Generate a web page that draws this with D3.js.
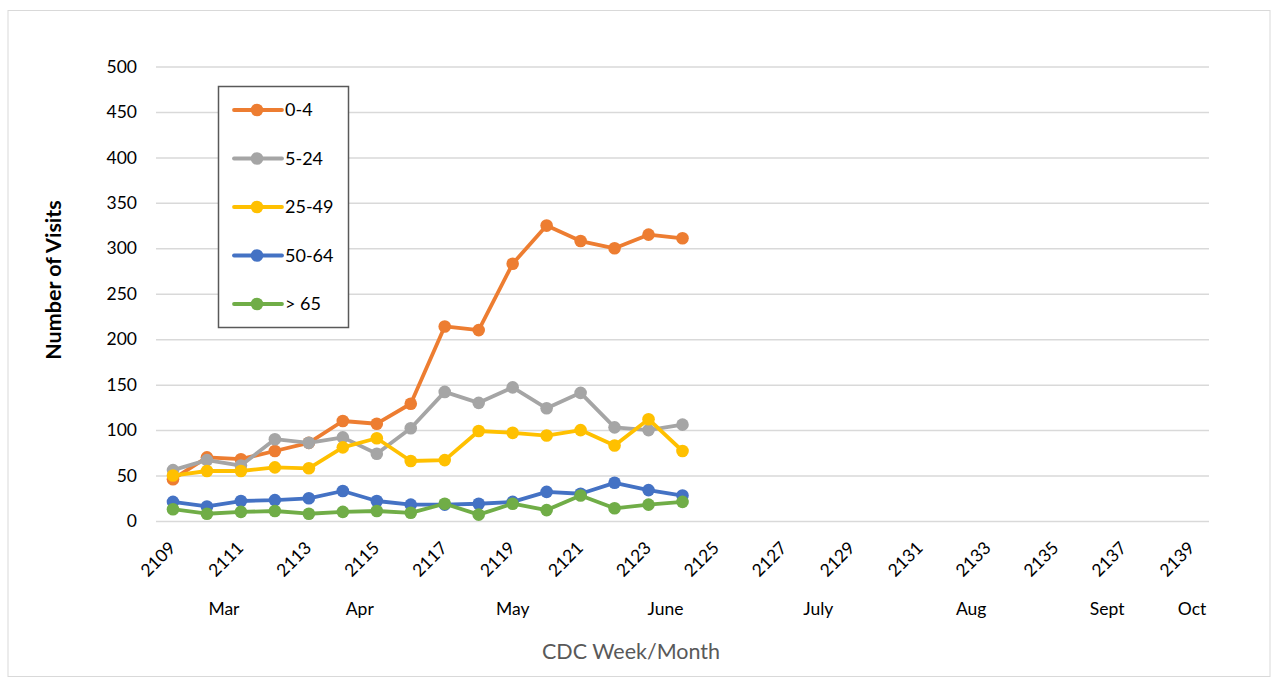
<!DOCTYPE html>
<html><head><meta charset="utf-8">
<script src="https://cdn.jsdelivr.net/npm/d3@7"></script>
<style>body{margin:0;background:#fff;}text{font-family:Lato,"Open Sans",sans-serif;}</style>
</head><body>
<svg id="c" width="1275" height="677"></svg>
<script>
const weeks = d3.range(2109, 2125);
const tickWeeks = d3.range(2109, 2140, 2);
const seriesNames = ["0-4", "5-24", "25-49", "50-64", "> 65"];
const seriesColors = ["#ED7D31", "#A5A5A5", "#FFC000", "#4472C4", "#70AD47"];
const s0_4   = [46, 70, 68, 77, 86, 110, 107, 129, 214, 210, 283, 325, 308, 300, 315, 311];
const s5_24  = [56, 67, 61, 90, 86, 92, 74, 102, 142, 130, 147, 124, 141, 103, 100, 106];
const s25_49 = [50, 55, 55, 59, 58, 81, 91, 66, 67, 99, 97, 94, 100, 83, 112, 77];
const s50_64 = [21, 16, 22, 23, 25, 33, 22, 18, 18, 19, 21, 32, 30, 42, 34, 28];
const s65    = [13, 8, 10, 11, 8, 10, 11, 9, 19, 7, 19, 12, 28, 14, 18, 21];
const monthLabels = ["Mar", "Apr", "May", "June", "July", "Aug", "Sept", "Oct"];
const monthWeeks = [2110.5, 2114.5, 2119, 2123.5, 2128, 2132.5, 2136.5, 2139];
const yTicks = [0, 50, 100, 150, 200, 250, 300, 350, 400, 450, 500];

const allSeries = [s0_4, s5_24, s25_49, s50_64, s65];
const svg = d3.select("#c");
const L = 156, R = 1209, T = 66.5, B = 521;

svg.append("rect").attr("x", 8).attr("y", 10.5).attr("width", 1262).attr("height", 666)
  .attr("fill", "#fff").attr("stroke", "#d9d9d9").attr("stroke-width", 1);

const x = d3.scaleLinear().domain([2108.5, 2139.5]).range([L, R]);
const y = d3.scaleLinear().domain([0, 500]).range([B, T]);

// gridlines
const yAxis = d3.axisLeft(y).tickValues(yTicks).tickSize(-(R - L)).tickPadding(19);
const gy = svg.append("g").attr("transform", `translate(${L},0)`).call(yAxis);
gy.select(".domain").remove();
gy.selectAll(".tick line").attr("stroke", "#d9d9d9").attr("stroke-width", 1.5);
gy.selectAll(".tick text").attr("fill", "#000").attr("font-size", 17.5).attr("font-family", "Lato");

// x tick labels
const xAxis = d3.axisBottom(x).tickValues(tickWeeks).tickSize(0).tickFormat(d3.format("d"));
const gx = svg.append("g").attr("transform", `translate(0,${B})`).call(xAxis);
gx.select(".domain").remove();
gx.selectAll(".tick text").attr("fill", "#000").attr("font-size", 17.5).attr("font-family", "Lato")
  .attr("text-anchor", "end").attr("dy", 0)
  .attr("transform", "translate(1,26) rotate(-45)");

// month labels
svg.append("g").selectAll("text").data(monthLabels).join("text")
  .attr("x", (d, i) => x(monthWeeks[i])).attr("y", 615)
  .attr("text-anchor", "middle").attr("font-size", 17.5).attr("fill", "#000").text(d => d);

// axis titles
svg.append("text").attr("x", 631).attr("y", 659).attr("text-anchor", "middle")
  .attr("font-size", 21.5).attr("fill", "#595959").text("CDC Week/Month");
svg.append("text").attr("transform", "translate(61,280) rotate(-90)").attr("text-anchor", "middle")
  .attr("font-size", 21.5).attr("font-weight", "bold").attr("fill", "#000").text("Number of Visits");

// series
const line = d3.line().x((d, i) => x(weeks[i])).y(d => y(d));
allSeries.forEach((s, k) => {
  const g = svg.append("g");
  g.append("path").datum(s).attr("d", line).attr("fill", "none")
    .attr("stroke", seriesColors[k]).attr("stroke-width", 3.8).attr("stroke-linejoin", "round");
  g.selectAll("circle").data(s).join("circle")
    .attr("cx", (d, i) => x(weeks[i])).attr("cy", d => y(d)).attr("r", 6.3)
    .attr("fill", seriesColors[k]);
});

// legend
const lg = svg.append("g");
lg.append("rect").attr("x", 218.5).attr("y", 86.5).attr("width", 130).attr("height", 241)
  .attr("fill", "#fff").attr("stroke", "#595959").attr("stroke-width", 1.5);
seriesNames.forEach((n, k) => {
  const yy = 110 + k * 48.5;
  lg.append("line").attr("x1", 234).attr("x2", 282).attr("y1", yy).attr("y2", yy)
    .attr("stroke", seriesColors[k]).attr("stroke-width", 3.8).attr("stroke-linecap", "round");
  lg.append("circle").attr("cx", 257).attr("cy", yy).attr("r", 6.3).attr("fill", seriesColors[k]);
  lg.append("text").attr("x", 285).attr("y", yy + 6).attr("font-size", 18).attr("fill", "#000").text(n);
});
</script>
</body></html>
